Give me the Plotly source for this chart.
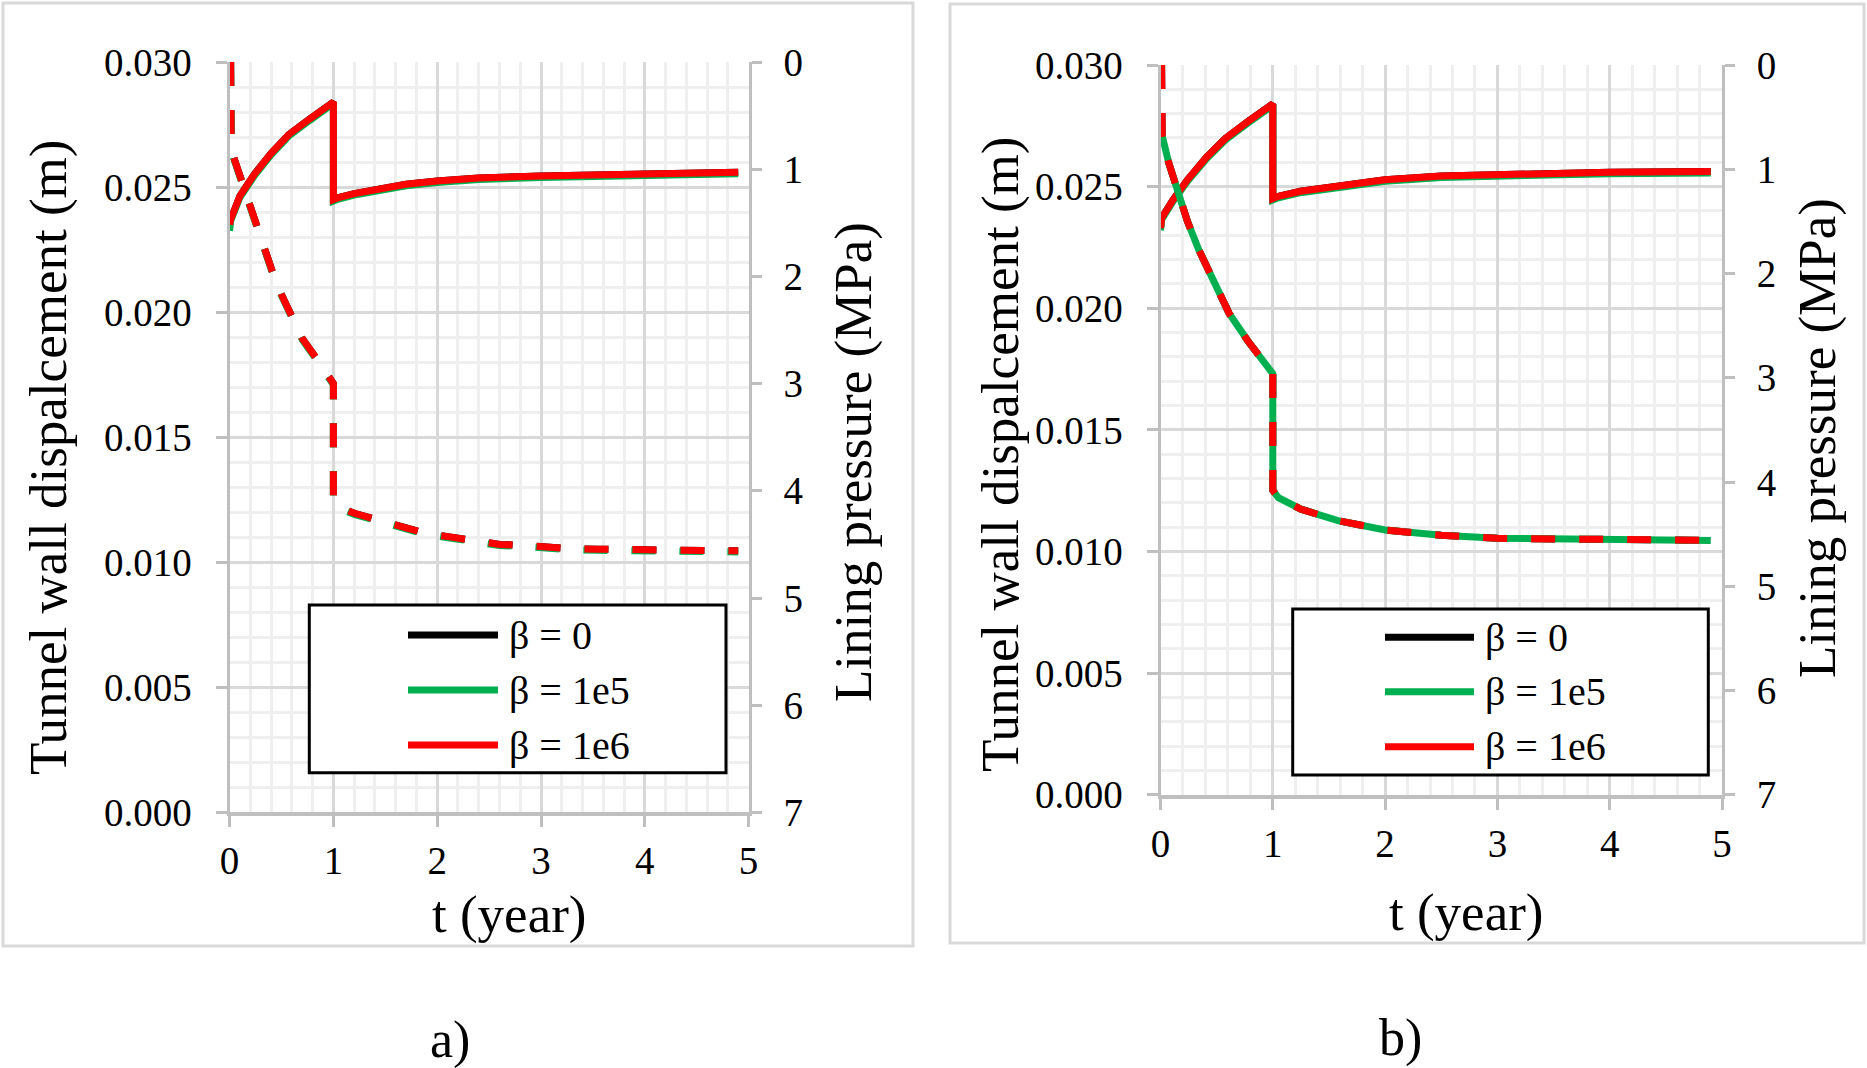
import plotly.graph_objects as go

W, H = 1867, 1068

# ---- data ----
# panel a) : tunnel wall displacement (m) vs t (year)
t_disp_a = [0, 0.01, 0.1, 0.24, 0.4, 0.57, 0.77, 1.0, 1.0, 1.05, 1.2, 1.4, 1.7, 2.0, 2.4, 3.0, 4.0, 4.9]
disp_a = [0.0235, 0.0237, 0.02465, 0.02552, 0.02635, 0.02710, 0.02772, 0.02840, 0.02450, 0.02458,
          0.02474, 0.02490, 0.02511, 0.02524, 0.02536, 0.02544, 0.02555, 0.02559]
disp_a_1e5 = [0.02325, 0.02364, 0.02459, 0.02546, 0.02629, 0.02704, 0.02766, 0.02834, 0.02444, 0.02452,
              0.02468, 0.02484, 0.02505, 0.02518, 0.02530, 0.02538, 0.02549, 0.02553]

# panel a) : lining pressure (MPa) vs t (year)
t_pres_a = [0.01, 0.015, 0.04, 0.12, 0.17, 0.26, 0.32, 0.41, 0.5, 0.6, 0.7, 0.84, 0.97, 1.0, 1.0, 1.05,
            1.2, 1.42, 1.67, 1.9, 2.12, 2.37, 2.6, 2.83, 3.06, 3.3, 3.55, 3.8, 4.0, 4.25, 4.5, 4.9]
pres_a = [0, 0.70, 0.89, 1.12, 1.28, 1.52, 1.71, 1.95, 2.17, 2.38, 2.58, 2.77, 2.95, 3.0, 4.08, 4.15,
          4.21, 4.27, 4.34, 4.40, 4.43, 4.47, 4.50, 4.51, 4.53, 4.54, 4.545, 4.55, 4.555, 4.56, 4.56, 4.56]
pres_a_1e5 = [0, 0.71, 0.90, 1.13, 1.29, 1.53, 1.72, 1.96, 2.18, 2.39, 2.59, 2.78, 2.96, 3.01, 4.09, 4.16,
              4.22, 4.28, 4.35, 4.41, 4.44, 4.48, 4.51, 4.52, 4.54, 4.55, 4.555, 4.56, 4.565, 4.57, 4.57, 4.57]

# panel b) : tunnel wall displacement (m)
t_disp_b = [0, 0.01, 0.108, 0.24, 0.41, 0.578, 0.78, 1.0, 1.0, 1.05, 1.247, 1.58, 2.0, 2.5, 3.0, 4.0, 4.9]
disp_b = [0.0233, 0.0237, 0.02443, 0.02528, 0.02621, 0.02698, 0.02768, 0.02840, 0.02451, 0.02460,
          0.02481, 0.02505, 0.02528, 0.02544, 0.02551, 0.02559, 0.02562]
disp_b_1e5 = [0.0232, 0.02364, 0.02437, 0.02522, 0.02615, 0.02692, 0.02762, 0.02834, 0.02445, 0.02454,
              0.02475, 0.02499, 0.02522, 0.02538, 0.02545, 0.02553, 0.02556]

# panel b) : lining pressure (MPa)
t_pres_b = [0.01, 0.015, 0.074, 0.157, 0.24, 0.34, 0.445, 0.61, 0.78, 0.915, 1.0, 1.0, 1.05, 1.25,
            1.58, 2.0, 2.5, 3.0, 3.6, 4.0, 4.9]
pres_b = [0, 0.68, 0.94, 1.22, 1.50, 1.77, 2.02, 2.38, 2.65, 2.83, 2.96, 4.08, 4.15, 4.26,
          4.37, 4.46, 4.51, 4.54, 4.55, 4.56, 4.56]

beta_labels = ["β = 0", "β = 1e5", "β = 1e6"]
beta_colors = ["#000000", "#00b050", "#ff0000"]

# ---- styling ----
FONT = "Liberation Serif"
major_grid = "#d9d9d9"
minor_grid = "#efefef"
axis_gray = "#bfbfbf"
LW = 7


def px(x, y):
    # pixel position -> paper coordinates
    return x / W, 1 - y / H


fig = go.Figure()

# panel a
series_a = [
    (disp_a, pres_a),
    (disp_a_1e5, pres_a_1e5),
    (disp_a, pres_a),
]
for (d, p), name, col in zip(series_a, beta_labels, beta_colors):
    fig.add_trace(go.Scatter(x=t_disp_a, y=d, mode="lines", name=name, showlegend=False,
                             line=dict(color=col, width=LW), xaxis="x", yaxis="y"))
    fig.add_trace(go.Scatter(x=t_pres_a, y=p, mode="lines", name=name, showlegend=False,
                             line=dict(color=col, width=LW, dash="24px,24px"), xaxis="x", yaxis="y2"))

# panel b
series_b = [
    (disp_b, t_pres_b, pres_b, "24px,24px"),
    (disp_b_1e5, t_pres_b[1:], pres_b[1:], "solid"),
    (disp_b, t_pres_b, pres_b, "24px,24px"),
]
for (d, tp, p, ds), name, col in zip(series_b, beta_labels, beta_colors):
    fig.add_trace(go.Scatter(x=t_disp_b, y=d, mode="lines", name=name, showlegend=False,
                             line=dict(color=col, width=LW), xaxis="x2", yaxis="y3"))
    fig.add_trace(go.Scatter(x=tp, y=p, mode="lines", name=name, showlegend=False,
                             line=dict(color=col, width=LW, dash=ds), xaxis="x2", yaxis="y4"))

tickfont = dict(family=FONT, size=39, color="black")


def x_axis(dom, anchor):
    return dict(domain=dom, anchor=anchor, range=[0, 5], tick0=0, dtick=1, automargin=False,
                showgrid=True, gridcolor=major_grid, gridwidth=2.5,
                minor=dict(dtick=0.2, showgrid=True, gridcolor=minor_grid, gridwidth=2.5),
                showline=True, linecolor=axis_gray, linewidth=4, zeroline=False,
                ticks="outside", ticklen=11, tickwidth=3, tickcolor=axis_gray,
                tickfont=tickfont, ticklabelstandoff=0)


def y_left(dom, anchor):
    return dict(domain=dom, anchor=anchor, range=[0, 0.03], tick0=0, dtick=0.005, automargin=False,
                tickformat=".3f", showgrid=True, gridcolor=major_grid, gridwidth=2.5,
                minor=dict(dtick=0.001, showgrid=True, gridcolor=minor_grid, gridwidth=2.5),
                showline=True, linecolor=axis_gray, linewidth=3, zeroline=False,
                ticks="outside", ticklen=11, tickwidth=3, tickcolor=axis_gray,
                tickfont=tickfont, ticklabelstandoff=16)


def y_right(over, anchor):
    return dict(overlaying=over, anchor=anchor, side="right", range=[7, 0], tick0=0, dtick=1,
                automargin=False, showgrid=False, showline=True, linecolor=axis_gray, linewidth=3,
                zeroline=False, ticks="outside", ticklen=10, tickwidth=3, tickcolor=axis_gray,
                tickfont=tickfont, ticklabelstandoff=14)


xa_dom = [229.6 / W, 748.6 / W]
ya_dom = [1 - 812.4 / H, 1 - 62 / H]
xb_dom = [1160.5 / W, 1722 / W]
yb_dom = [1 - 794.8 / H, 1 - 65 / H]

fig.update_layout(
    width=W, height=H,
    margin=dict(l=0, r=0, t=0, b=0, pad=0, autoexpand=False),
    paper_bgcolor="white", plot_bgcolor="white",
    font=dict(family=FONT, color="black"),
    showlegend=False,
    xaxis=x_axis(xa_dom, "y"),
    yaxis=y_left(ya_dom, "x"),
    yaxis2=y_right("y", "x"),
    xaxis2=x_axis(xb_dom, "y3"),
    yaxis3=y_left(yb_dom, "x2"),
    yaxis4=y_right("y3", "x2"),
)

shapes = []
annotations = []

# panel frames
for x0, y0, x1, y1 in [(3, 3, 913, 946), (950, 4, 1864, 943)]:
    a0 = px(x0, y1)
    a1 = px(x1, y0)
    shapes.append(dict(type="rect", xref="paper", yref="paper", x0=a0[0], y0=a0[1], x1=a1[0], y1=a1[1],
                       line=dict(color="#d9d9d9", width=3), fillcolor="rgba(0,0,0,0)", layer="below"))


def text(x, y, s, size, angle=0, xanchor="center"):
    p = px(x, y)
    annotations.append(dict(x=p[0], y=p[1], xref="paper", yref="paper", text=s, showarrow=False,
                            textangle=angle, xanchor=xanchor, yanchor="middle",
                            font=dict(family=FONT, size=size, color="black")))


# axis titles and panel labels
text(48, 458, "Tunnel wall dispalcement (m)", 53, -90)
text(853, 462, "Lining pressure (MPa)", 53, -90)
text(509, 914, "t (year)", 53)
text(450, 1040, "a)", 52)
text(1000, 455, "Tunnel wall dispalcement (m)", 53, -90)
text(1817, 438, "Lining pressure (MPa)", 53, -90)
text(1466, 912, "t (year)", 53)
text(1400, 1038, "b)", 52)

# legends drawn as boxes with long line samples
legends = [
    dict(box=(309.3, 605, 726, 772.7), line=(408, 498), tx=506.7, rows=(635, 690, 745)),
    dict(box=(1292.7, 609, 1708.3, 775), line=(1385, 1474), tx=1483, rows=(637.3, 691.7, 746.7)),
]
for lg in legends:
    bx0, by0, bx1, by1 = lg["box"]
    a0 = px(bx0, by1)
    a1 = px(bx1, by0)
    shapes.append(dict(type="rect", xref="paper", yref="paper", x0=a0[0], y0=a0[1], x1=a1[0], y1=a1[1],
                       line=dict(color="black", width=3), fillcolor="white", layer="above"))
    for ry, name, col in zip(lg["rows"], beta_labels, beta_colors):
        l0 = px(lg["line"][0], ry)
        l1 = px(lg["line"][1], ry)
        shapes.append(dict(type="line", xref="paper", yref="paper", x0=l0[0], y0=l0[1], x1=l1[0], y1=l1[1],
                           line=dict(color=col, width=LW), layer="above"))
        text(lg["tx"], ry, name, 40, xanchor="left")

fig.update_layout(shapes=shapes, annotations=annotations)

# the page's default body margin would push the figure 8 px down and right
fig.write_html("out.html", config={"displayModeBar": False},
               post_script="document.body.style.margin='0px';document.body.style.overflow='hidden';")
